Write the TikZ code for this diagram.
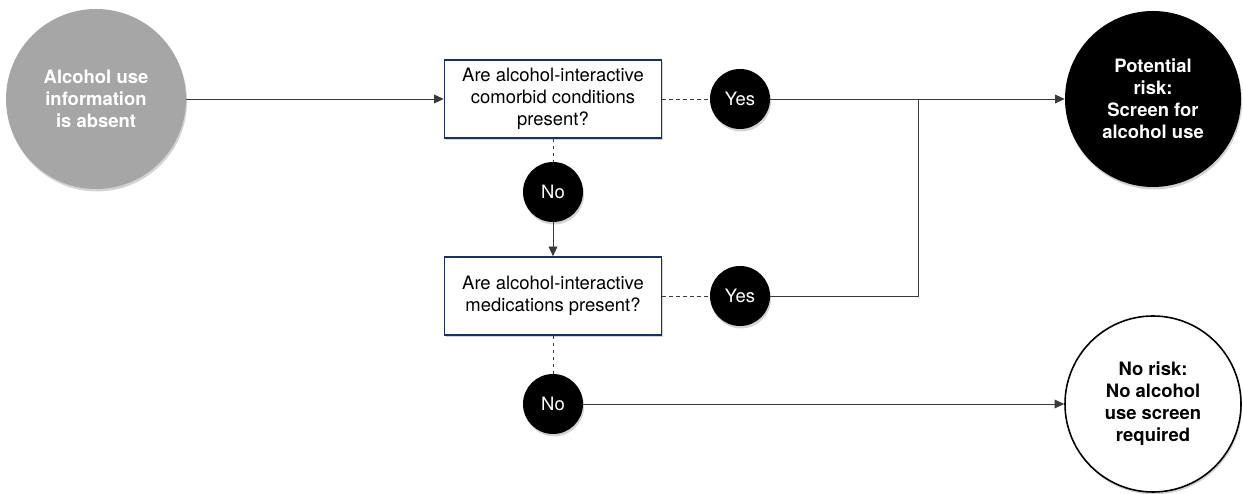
\documentclass[tikz,border=0pt]{standalone}
\usepackage{fontspec}
\setmainfont{TeX Gyre Heros}
\usepackage{tikz}
\usetikzlibrary{arrows.meta}
\usetikzlibrary{shadows}

\definecolor{BoxBlue}{HTML}{1B2F63}
\definecolor{StartGrey}{HTML}{A6A6A6}
\definecolor{LineGrey}{HTML}{3A3A3A}

\tikzset{
   shade/.style={drop shadow={opacity=0.35, shadow xshift=0.6pt, shadow yshift=-1.4pt}},
   endcircle/.style={circle, minimum size=3.52cm, inner sep=0pt, align=center,
      font=\fontsize{10.5}{12.5}\selectfont\bfseries, shade},
   question/.style={rectangle, draw=BoxBlue, line width=0.9pt, fill=white,
      minimum width=4.34cm, minimum height=1.56cm, align=center,
      font=\fontsize{10.5}{12.5}\selectfont, shade},
   answer/.style={circle, fill=black, text=white, minimum size=1.2cm, inner sep=0pt,
      font=\fontsize{10.5}{12.5}\selectfont, shade},
   flow/.style={draw=LineGrey, line width=0.5pt, -{Triangle[length=5.5pt, width=5pt]}},
   link/.style={draw=LineGrey, line width=0.5pt},
   guess/.style={draw=LineGrey, line width=0.5pt, dash pattern=on 2pt off 2pt}
}

\begin{document}
\begin{tikzpicture}
      \useasboundingbox (0,0) rectangle (24.86,9.88);

      \node (start) at (1.92,7.90) [endcircle, minimum size=3.6cm,
         fill=StartGrey, text=white] {Alcohol use\\information\\is absent};
      \node (cond) at (11.06,7.90) [question]
         {Are alcohol-interactive\\comorbid conditions\\present?};
      \node (yes1) at (14.80,7.90) [answer] {Yes};
      \node (no1) at (11.06,6.04) [answer] {No};
      \node (meds) at (11.06,3.96) [question]
         {Are alcohol-interactive\\medications present?};
      \node (yes2) at (14.80,3.96) [answer] {Yes};
      \node (no2) at (11.06,1.80) [answer] {No};
      \node (risk) at (23.06,7.90) [endcircle, fill=black, text=white]
         {Potential\\risk:\\Screen for\\alcohol use};
      \node (norisk) at (23.06,1.80) [endcircle, draw=black, line width=0.9pt,
         fill=white] {No risk:\\No alcohol\\use screen\\required};
      \coordinate (join) at (18.36,7.90);

      \draw [flow] (start) -- (cond);
      \draw [guess] (cond) -- (yes1);
      \draw [guess] (cond) -- (no1);
      \draw [flow] (no1) -- (meds);
      \draw [guess] (meds) -- (yes2);
      \draw [guess] (meds) -- (no2);
      \draw [flow] (yes1) -- (risk);
      \draw [link] (yes2) -| (join);
      \draw [flow] (no2) -- (norisk);
   \end{tikzpicture}
\end{document}
